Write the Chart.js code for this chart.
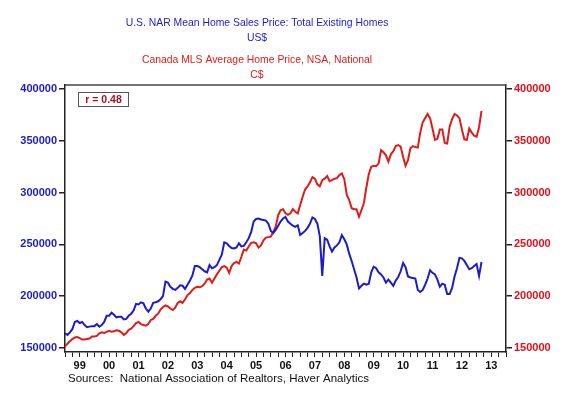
<!DOCTYPE html>
<html>
<head>
<meta charset="utf-8">
<script src="https://cdn.jsdelivr.net/npm/chart.js@4.4.1/dist/chart.umd.min.js"></script>
<style>
  html, body { margin: 0; padding: 0; background: #fff; }
</style>
</head>
<body>
<canvas id="homePrices" width="580" height="399"></canvas>
<script>
const BLUE = "#1c1cc8";
const RED = "#e01b1b";
const AXIS = "#222";
const FONT = "'Liberation Sans', Arial, sans-serif";

const startYear = 1999;
const yearLabels = ["99", "00", "01", "02", "03", "04", "05", "06", "07", "08", "09", "10", "11", "12", "13"];
const priceTicks = [150000, 200000, 250000, 300000, 350000, 400000];

// monthly, thousands, Jan 1999 .. Mar 2013
const usPrice = [
  164, 162.5, 165, 168, 175, 176, 174, 175, 172, 170, 170.5, 171,
  171, 173, 170.5, 172, 175, 181, 181, 184, 182, 179.5, 180, 180,
  177.5, 178, 181, 183, 186, 192.5, 192, 194, 193, 188, 185, 188,
  193.5, 194, 195, 197, 200, 214, 213, 209, 207, 206, 208, 210.5,
  210, 207, 211, 215, 220, 229, 229, 228, 226, 224, 223, 230,
  227, 228, 230, 235, 240, 252, 251, 248.5, 246.5, 246, 247, 251,
  248, 248.5, 252, 256, 262, 272, 274.5, 275, 274, 273.5, 273, 270,
  263, 261, 264, 268, 272, 275, 276.5, 272, 270, 268, 267, 268.5,
  259, 261, 263, 266, 270, 276, 274.5, 270, 258, 219.5, 256, 254.5,
  248, 243, 247, 249, 252, 259, 255, 250, 241, 234, 226, 218,
  207.5, 210, 212, 211, 212, 223, 228.5, 227, 223, 221, 218, 213,
  216, 213, 210, 215, 218.5, 224, 232, 228, 219, 218, 217.5, 217,
  206, 204, 206, 211, 217, 225, 222.5, 221, 216, 209, 212, 211,
  202, 202, 208, 219, 227, 237, 236.5, 234, 230, 226, 227, 229,
  231, 219.5, 233
];

const canadaPrice = [
  151.5, 154, 156.5, 158.5, 160, 160.5, 159.5, 158, 158, 158.5, 159, 161,
  161, 161.5, 164, 165, 164.5, 165.5, 166.5, 165.5, 166, 167, 166.5, 165,
  162.5, 164, 167.5, 168.5, 171, 174, 175, 173, 172, 171.5, 173, 177,
  178, 181, 183, 187, 189.5, 191, 190, 188, 186.5, 189, 193.5, 195,
  193.5, 197, 201, 203, 206, 208, 209, 208.5, 209.5, 212, 216, 217,
  213, 217, 221, 224.5, 228, 229, 227.5, 222.5, 229, 232, 233, 231.5,
  238, 245, 244, 248, 251.5, 252, 251, 247, 249, 254, 256.5, 257,
  257.5, 262, 267, 278, 283, 284, 280, 278.5, 280, 284, 281.5, 280,
  288, 296, 303, 306, 310, 315, 313.5, 308, 306, 312, 313.5, 316,
  311, 312, 313.5, 314, 317, 318.5, 313, 298, 292.8, 285, 284, 284,
  276.7, 283, 290, 305, 318, 325, 326, 325.5, 328, 341, 339, 336,
  330, 337, 340, 345, 346, 344.5, 334.5, 326, 331.5, 343, 345, 344,
  343.5, 358, 368, 372, 376, 372, 362, 351, 352, 361, 361, 348,
  347.5, 364, 371, 376, 374.5, 372, 361, 351.5, 351, 362, 358, 355,
  354, 363, 379
];

const titleLines = [
  { text: "U.S. NAR Mean Home Sales Price: Total Existing Homes", color: BLUE, y: 23 },
  { text: "US$", color: BLUE, y: 38 },
  { text: "Canada MLS Average Home Price, NSA, National", color: RED, y: 60 },
  { text: "C$", color: RED, y: 75 }
];
const correlation = "r = 0.48";
const sourceNote = "Sources:  National Association of Realtors, Haver Analytics";

function toPoints(values) {
  return values.map((v, i) => ({ x: startYear + i / 12, y: v * 1000 }));
}

const decorations = {
  id: "decorations",
  afterDraw(chart) {
    const ctx = chart.ctx;
    const area = chart.chartArea;
    ctx.save();

    // top frame line
    ctx.strokeStyle = "#444";
    ctx.lineWidth = 1.5;
    ctx.beginPath();
    ctx.moveTo(area.left, area.top);
    ctx.lineTo(area.right, area.top);
    ctx.stroke();

    ctx.textAlign = "center";
    ctx.textBaseline = "middle";
    ctx.font = "10.4px " + FONT;
    titleLines.forEach(line => {
      ctx.fillStyle = line.color;
      ctx.fillText(line.text, 257, line.y);
    });

    // correlation box
    ctx.strokeStyle = "#555";
    ctx.lineWidth = 1;
    ctx.strokeRect(78.5, 92.5, 50, 14);
    ctx.fillStyle = "#a3122a";
    ctx.font = "bold 10.5px " + FONT;
    ctx.fillText(correlation, 103.5, 100);

    ctx.textAlign = "left";
    ctx.fillStyle = "#111";
    ctx.font = "11.5px " + FONT;
    ctx.fillText(sourceNote, 68, 379);
    ctx.restore();
  }
};

function yAxis(position, color, width) {
  return {
    type: "linear",
    position: position,
    min: 146000,
    max: 404000,
    afterFit: scale => { scale.width = width; },
    afterBuildTicks: scale => { scale.ticks = priceTicks.map(v => ({ value: v })); },
    border: { display: true, color: AXIS, width: 1.5 },
    grid: { drawOnChartArea: false, tickLength: 6, color: AXIS, lineWidth: 1.5 },
    ticks: {
      padding: 2,
      color: color,
      font: { family: FONT, size: 11, weight: "bold" },
      callback: v => String(v)
    }
  };
}

new Chart(document.getElementById("homePrices"), {
  type: "line",
  data: {
    datasets: [
      {
        label: "U.S. NAR Mean Home Sales Price",
        data: toPoints(usPrice),
        yAxisID: "y",
        borderColor: BLUE,
        borderWidth: 2,
        pointRadius: 0,
        tension: 0
      },
      {
        label: "Canada MLS Average Home Price",
        data: toPoints(canadaPrice),
        yAxisID: "y2",
        borderColor: RED,
        borderWidth: 2,
        pointRadius: 0,
        tension: 0
      }
    ]
  },
  options: {
    responsive: false,
    animation: false,
    parsing: false,
    layout: { padding: { top: 85, left: 0, right: 0, bottom: 0 } },
    plugins: {
      legend: { display: false },
      tooltip: { enabled: false },
      title: { display: false }
    },
    scales: {
      x: {
        type: "linear",
        min: 1999,
        max: 2014,
        afterFit: scale => { scale.height = 47; },
        border: { display: true, color: AXIS, width: 1.5 },
        grid: { drawOnChartArea: false, tickLength: 5, color: AXIS },
        ticks: {
          stepSize: 0.25,
          autoSkip: false,
          maxRotation: 0,
          padding: 2,
          color: "#111",
          font: { family: FONT, size: 11, weight: "bold" },
          callback: v => {
            const yr = v - 0.5;
            return Number.isInteger(yr) ? (yearLabels[yr - startYear] || "") : "";
          }
        }
      },
      y: yAxis("left", "#1a1ad0", 65),
      y2: yAxis("right", "#e0101a", 74)
    }
  },
  plugins: [decorations]
});
</script>
</body>
</html>
